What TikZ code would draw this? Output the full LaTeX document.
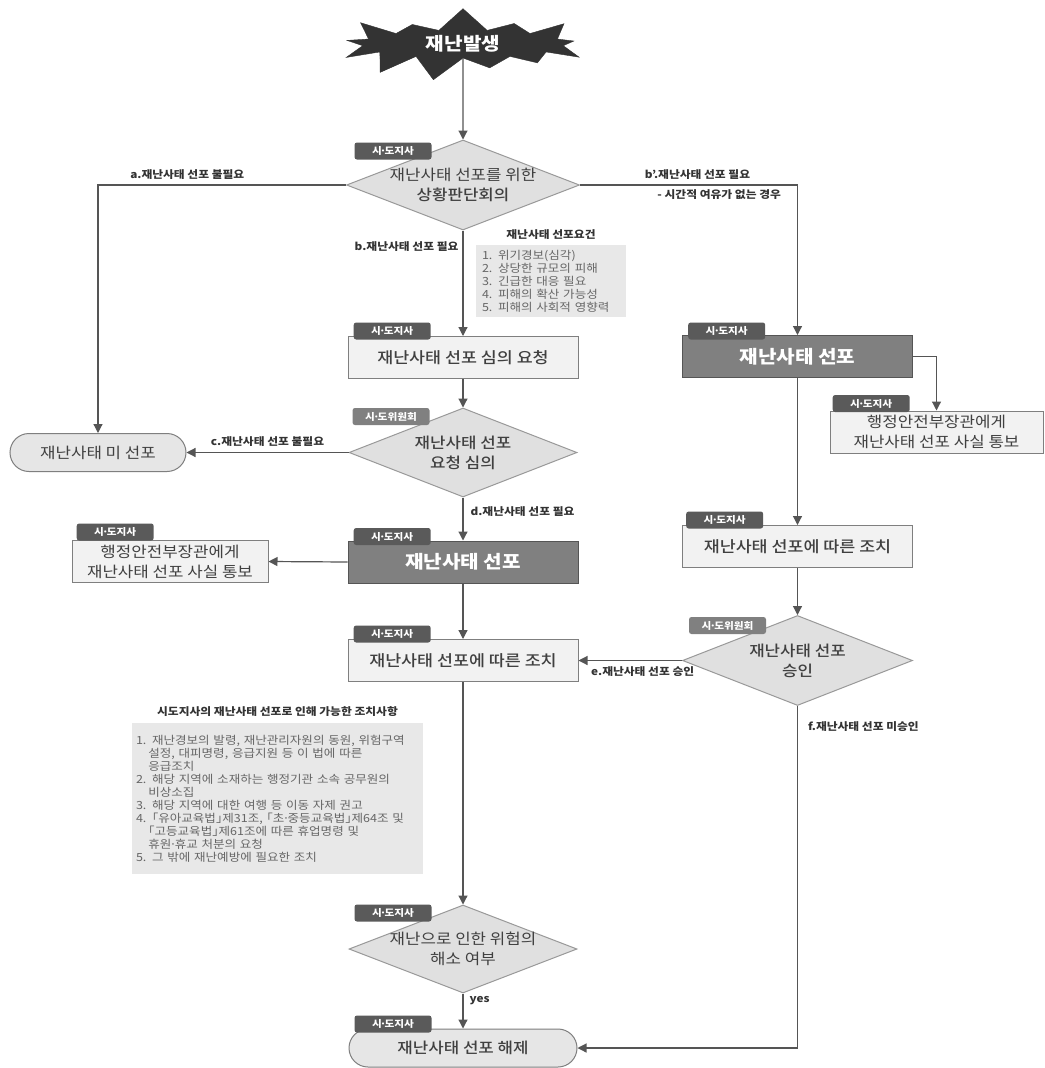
\documentclass[tikz,border=0pt]{standalone}
\usepackage{fontspec}
\setmainfont[FakeStretch=1.12]{Noto Sans CJK KR}
\newfontfamily\krmedium[FakeStretch=1.12]{Noto Sans CJK KR Medium}
\usetikzlibrary{arrows.meta,positioning,shapes.geometric,shapes.misc,shapes.symbols}

\definecolor{flowgray}{HTML}{555555}
\definecolor{burstgray}{HTML}{333333}
\definecolor{tagdark}{HTML}{5A5A5A}
\definecolor{taglight}{HTML}{808080}
\definecolor{boxlight}{HTML}{F2F2F2}
\definecolor{boxdark}{HTML}{808080}
\definecolor{edgegray}{HTML}{7F7F7F}
\definecolor{diafill}{HTML}{E0E0E0}
\definecolor{termfill}{HTML}{E6E6E6}
\definecolor{notefill}{HTML}{E8E8E8}
\definecolor{textgray}{HTML}{404040}
\definecolor{notetext}{HTML}{666666}

% narrow middle dot for the tags
\newcommand\mdot{\makebox[0.3em]{·}}

\begin{document}
\pgfmathsetseed{7}
\begin{tikzpicture}[x=1pt, y=-1pt,
      every node/.style = {align=center, inner sep=0pt},
      flow/.style       = {draw=flowgray, line width=1.2pt, -{Triangle[length=9pt,width=9pt]}},
      burst/.style      = {starburst, fill=burstgray, draw=burstgray, text=white,
                           font=\bfseries\fontsize{18}{20}\selectfont,
                           minimum width=250pt, minimum height=76pt,
                           starburst points=13, starburst point height=24pt, random starburst=40},
      tag/.style        = {rounded corners=2.5pt, fill=tagdark, text=white,
                           font=\bfseries\fontsize{9.5}{10}\selectfont, minimum width=77pt, minimum height=17pt},
      tagc/.style       = {tag, fill=taglight},
      procbox/.style    = {rectangle, draw=edgegray, line width=1pt, fill=boxlight, text=textgray,
                           font=\fontsize{15}{20}\selectfont, minimum width=230pt, minimum height=42pt},
      procmed/.style    = {procbox, font=\krmedium\fontsize{15.5}{20}\selectfont},
      declbox/.style    = {procbox, fill=boxdark, draw=flowgray, text=white,
                           font=\bfseries\fontsize{18}{21}\selectfont},
      decision/.style   = {diamond, draw=edgegray!80, line width=1pt, fill=diafill,
                           minimum width=230pt, minimum height=90pt},
      dectext/.style    = {text=textgray, font=\fontsize{15}{20}\selectfont},
      terminal/.style   = {rounded rectangle, draw=edgegray, line width=1pt, fill=termfill, text=textgray,
                           font=\fontsize{15}{18}\selectfont, minimum height=38pt},
      edgelabel/.style  = {text=burstgray, font=\bfseries\fontsize{10.5}{12}\selectfont},
      notebox/.style    = {fill=notefill, text=notetext, align=left, font=\fontsize{11.2}{13}\selectfont,
                           inner xsep=6pt, inner ysep=5pt},
      notetitle/.style  = {text=burstgray, font=\bfseries\fontsize{10.5}{12}\selectfont}
    ]
    \useasboundingbox (0,0) rectangle (1044,1068);
    \fill[white] (0,0) rectangle (1044,1068);

    % main column
    \node (burst)     [burst] at (463,44) {재난발생};
    \node (judge)     [decision, minimum width=233pt] at (463,185) {};
    \node (judgetxt)  [dectext] at (judge.center) {재난사태 선포를 위한\\{\krmedium 상황판단회의}};
    \node (judgetag)  [tag] at ([shift={(-70,-34)}]judge.center) {시\mdot 도지사};

    \node (reqbox)    [procmed] at (463,357.5) {재난사태 선포 심의 요청};
    \node (reqtag)    [tag, anchor=west] at ([shift={(6,-5)}]reqbox.north west) {시\mdot 도지사};

    \node (review)    [decision, minimum width=228pt, minimum height=89pt] at (463,452.5) {};
    \node (reviewtxt) [dectext, font=\krmedium\fontsize{15}{20}\selectfont] at (review.center) {재난사태 선포\\요청 심의};
    \node (reviewtag) [tagc] at ([shift={(-72,-36)}]review.center) {시\mdot 도위원회};

    \node (nosel)     [terminal, minimum width=176pt] at (98,452.5) {재난사태 미 선포};

    \node (decl)      [declbox] at (463,562) {재난사태 선포};
    \node (decltag)   [tag, anchor=west] at ([shift={(6,-4)}]decl.north west) {시\mdot 도지사};
    \node (notifyl)   [procbox, minimum width=196pt] at (170,561.5) {행정안전부장관에게\\재난사태 선포 사실 통보};
    \node (notifyltag)[tag, anchor=west] at ([shift={(5,-8)}]notifyl.north west) {시\mdot 도지사};

    \node (actbox)    [procmed] at (463,660.5) {재난사태 선포에 따른 조치};
    \node (acttag)    [tag, anchor=west] at ([shift={(6,-5)}]actbox.north west) {시\mdot 도지사};

    \node (clear)     [decision, minimum width=228pt, minimum height=88pt] at (463,949) {};
    \node (cleartxt)  [dectext] at (clear.center) {재난으로 인한 위험의\\해소 여부};
    \node (cleartag)  [tag] at ([shift={(-70,-36)}]clear.center) {시\mdot 도지사};

    \node (release)   [terminal, minimum width=228pt, font=\krmedium\fontsize{15}{18}\selectfont] at (463,1048) {재난사태 선포 해제};
    \node (releasetag)[tag] at ([shift={(-70,-24)}]release.center) {시\mdot 도지사};

    % right column
    \node (rdecl)     [declbox] at (797.5,356.5) {재난사태 선포};
    \node (rdecltag)  [tag, anchor=west] at ([shift={(6,-4)}]rdecl.north west) {시\mdot 도지사};
    \node (notifyr)   [procbox, minimum width=213pt] at (936.5,432) {행정안전부장관에게\\재난사태 선포 사실 통보};
    \node (notifyrtag)[tag, anchor=west] at ([shift={(3,-7)}]notifyr.north west) {시\mdot 도지사};

    \node (ractbox)   [procmed] at (797.5,546.5) {재난사태 선포에 따른 조치};
    \node (racttag)   [tag, anchor=west] at ([shift={(4,-5)}]ractbox.north west) {시\mdot 도지사};

    \node (approve)   [decision] at (797.5,660.5) {};
    \node (approvetxt)[dectext, font=\krmedium\fontsize{15}{20}\selectfont] at (approve.center) {재난사태 선포\\승인};
    \node (approvetag)[tagc] at ([shift={(-70,-35)}]approve.center) {시\mdot 도위원회};

    % notes
    \node (reqnote)   [notebox, text width=138pt] at (551,281)
      {1. 위기경보(심각)\\2. 상당한 규모의 피해\\3. 긴급한 대응 필요\\4. 피해의 확산 가능성\\5. 피해의 사회적 영향력};
    \node (reqnotetitle) [notetitle, above=5pt of reqnote] {재난사태 선포요건};

    \node (actnote)   [notebox, text width=283pt, inner xsep=4pt, inner ysep=12pt] at (277.5,798.5)
      {1. 재난경보의 발령, 재난관리자원의 동원, 위험구역\\
       \hspace*{1.1em}설정, 대피명령, 응급지원 등 이 법에 따른\\
       \hspace*{1.1em}응급조치\\
       2. 해당 지역에 소재하는 행정기관 소속 공무원의\\
       \hspace*{1.1em}비상소집\\
       3. 해당 지역에 대한 여행 등 이동 자제 권고\\
       4. ｢유아교육법｣제31조, ｢초\mdot 중등교육법｣제64조~및\\
       \hspace*{1.1em}｢고등교육법｣제61조에 따른 휴업명령 및\\
       \hspace*{1.1em}휴원\mdot 휴교 처분의 요청\\
       5. 그 밖에 재난예방에 필요한 조치};
    \node (actnotetitle) [notetitle, above=6pt of actnote] {시도지사의 재난사태 선포로 인해 가능한 조치사항};

    % connectors
    \draw[flow] (burst.south) to (judge.north);
    \draw[flow] (judge.west) -| node[edgelabel, pos=0.32, above=5pt] {a.재난사태 선포 불필요} (nosel.north);
    \draw[flow] (judge.east) -| node[edgelabel, pos=0.27, above=5pt] {b'.재난사태 선포 필요}
                               node[edgelabel, pos=0.32, below=4pt] {- 시간적 여유가 없는 경우} (rdecl.north);
    \draw[flow] (judge.south) to node[edgelabel, pos=0.15, left=4pt] {b.재난사태 선포 필요} (reqbox.north);
    \draw[flow] (reqbox.south) to (review.north);
    \draw[flow] (review.west) to node[edgelabel, above=5pt] {c.재난사태 선포 불필요} (nosel.east);
    \draw[flow] (review.south) to node[edgelabel, pos=0.32, right=7pt] {d.재난사태 선포 필요} (decl.north);
    \draw[flow] (decl.west) to (notifyl.east);
    \draw[flow] (decl.south) to (actbox.north);
    \draw[flow] (actbox.south) to (clear.north);
    \draw[flow] (clear.south) to node[edgelabel, pos=0.2, right=6pt] {yes} (release.north);
    \draw[flow] (rdecl.east) -| (notifyr.north);
    \draw[flow] (rdecl.south) to (ractbox.north);
    \draw[flow] (ractbox.south) to (approve.north);
    \draw[flow] (approve.west) to node[edgelabel, pos=0.38, below=6pt] {e.재난사태 선포 승인} (actbox.east);
    \draw[flow] (approve.south) |- node[edgelabel, pos=0.03, right=10pt] {f.재난사태 선포 미승인} (release.east);
\end{tikzpicture}
\end{document}
